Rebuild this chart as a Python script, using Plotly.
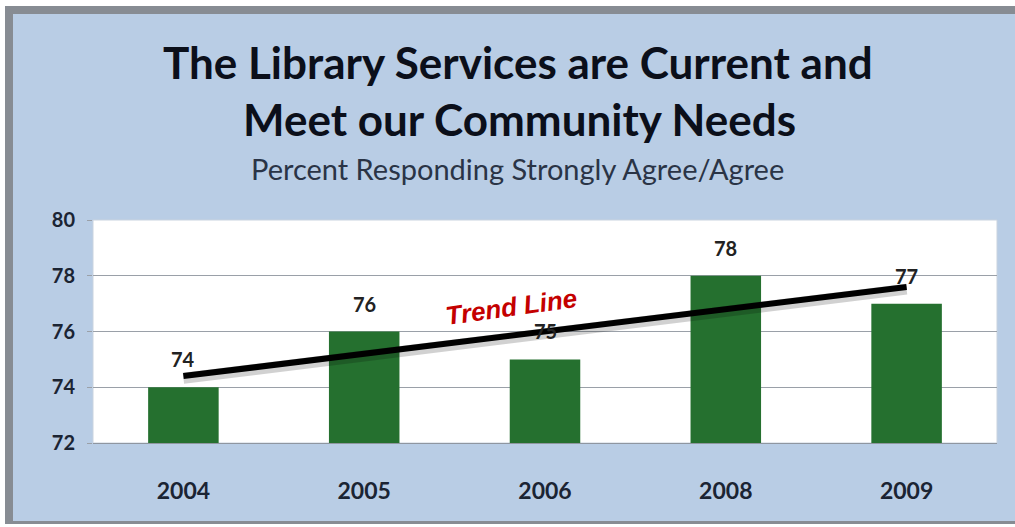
import plotly.graph_objects as go

# Survey results
years = ["2004", "2005", "2006", "2008", "2009"]
percent_agree = [74, 76, 75, 78, 77]

# Trend line end points (first and last year)
trend_years = ["2004", "2009"]
trend_values = [74.4, 77.6]

y_ticks = [72, 74, 76, 78, 80]

title_line1 = "The Library Services are Current and"
title_line2 = "Meet our Community Needs"
subtitle = "Percent Responding Strongly Agree/Agree"

W, H = 1015, 527
L, R, T, B = 93, 18, 220, 84
PW, PH = W - L - R, H - T - B


def px_x(px):
    return (px - L) / PW


def px_y(py):
    return (H - B - py) / PH


FONT = "Lato"
BAR_GREEN = "#25702f"
PANEL_BLUE = "#b9cde5"
FRAME_GRAY = "#878c93"
TEXT_DARK = "#1b2433"

fig = go.Figure()

fig.add_trace(go.Bar(
    x=years, y=percent_agree,
    marker=dict(color=BAR_GREEN, line=dict(width=0)),
    width=0.39,
    hoverinfo="x+y",
))

# soft shadow under the trend line
fig.add_trace(go.Scatter(
    x=trend_years, y=[v - 0.08 for v in trend_values],
    mode="lines", line=dict(color="rgba(0,0,0,0.18)", width=11),
    hoverinfo="skip",
))
fig.add_trace(go.Scatter(
    x=trend_years, y=trend_values,
    mode="lines", line=dict(color="#000000", width=6),
    hoverinfo="skip",
))

annotations = []
for i, v in enumerate(percent_agree):
    annotations.append(dict(
        x=i, y=v, xref="x", yref="y", text=f"<b>{v}</b>",
        showarrow=False, yanchor="bottom", yshift=14,
        font=dict(family=FONT, size=20, color="#222222"),
    ))

annotations += [
    dict(x=px_x(518), y=px_y(62), xref="paper", yref="paper",
         text=f"<b>{title_line1}</b>", showarrow=False,
         xanchor="center", yanchor="middle",
         font=dict(family=FONT, size=44, color="#0b0f1a")),
    dict(x=px_x(519), y=px_y(119), xref="paper", yref="paper",
         text=f"<b>{title_line2}</b>", showarrow=False,
         xanchor="center", yanchor="middle",
         font=dict(family=FONT, size=44, color="#0b0f1a")),
    dict(x=px_x(517), y=px_y(168), xref="paper", yref="paper",
         text=subtitle, showarrow=False,
         xanchor="center", yanchor="middle",
         font=dict(family=FONT, size=29, color="#2a3446")),
    dict(x=px_x(511), y=px_y(307), xref="paper", yref="paper",
         text="<b><i>Trend Line</i></b>", showarrow=False,
         xanchor="center", yanchor="middle", textangle=-8,
         font=dict(family="Liberation Sans", size=26, color="#c40000")),
]

shapes = [
    # outer frame
    dict(type="rect", xref="paper", yref="paper", layer="below",
         x0=px_x(5), x1=px_x(1030), y0=px_y(524), y1=px_y(6),
         fillcolor=FRAME_GRAY, line=dict(width=0)),
    dict(type="rect", xref="paper", yref="paper", layer="below",
         x0=px_x(13), x1=px_x(1030), y0=px_y(521), y1=px_y(14),
         fillcolor=PANEL_BLUE, line=dict(width=0)),
    # plot area
    dict(type="rect", xref="paper", yref="paper", layer="below",
         x0=0, x1=1, y0=0, y1=1,
         fillcolor="#ffffff", line=dict(color="#c9d3df", width=1)),
]

fig.update_layout(
    width=W, height=H,
    margin=dict(l=L, r=R, t=T, b=B, pad=0),
    paper_bgcolor="#ffffff",
    plot_bgcolor="rgba(0,0,0,0)",
    showlegend=False,
    bargap=0.61,
    annotations=annotations,
    shapes=shapes,
    xaxis=dict(
        type="category", categoryorder="array", categoryarray=years,
        range=[-0.5, len(years) - 0.5],
        showgrid=False, zeroline=False,
        showline=True, linecolor="#8f96a0", linewidth=1,
        ticks="", ticklabelstandoff=27,
        tickfont=dict(family=FONT, size=23, color=TEXT_DARK, weight="bold"),
    ),
    yaxis=dict(
        range=[72, 80], tickvals=y_ticks,
        showgrid=True, gridcolor="#9aa0a8", gridwidth=1,
        zeroline=False, showline=False,
        ticks="outside", ticklen=5, tickcolor="#9aa0a8",
        ticklabelstandoff=8,
        tickfont=dict(family=FONT, size=20, color=TEXT_DARK, weight="bold"),
    ),
)

fig.write_html("out.html")
